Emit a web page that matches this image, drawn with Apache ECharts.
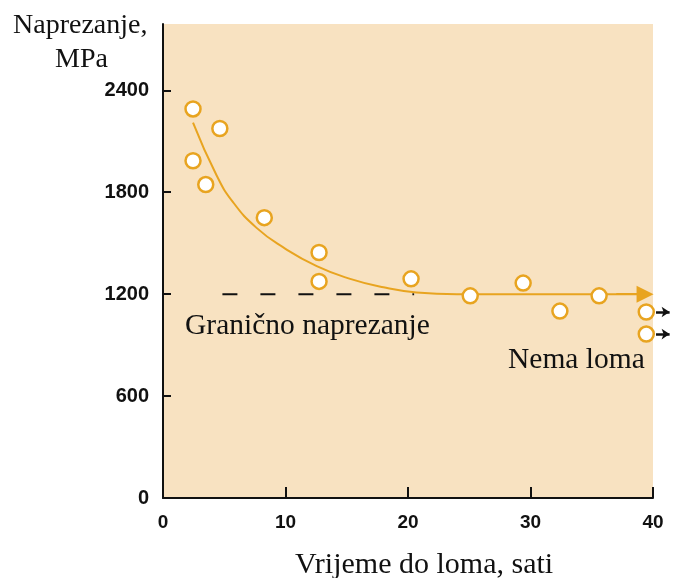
<!DOCTYPE html>
<html>
<head>
<meta charset="utf-8">
<script src="https://cdn.jsdelivr.net/npm/echarts@6/dist/echarts.min.js"></script>
<style>
  html, body { margin: 0; padding: 0; background: #fff; }
  #main { width: 673px; height: 578px; }
</style>
</head>
<body>
<div id="main"></div>
<script>
  // mjerne točke (vrijeme do loma, naprezanje)
  var timeHours = [2.45, 4.64, 2.45, 3.49, 8.27, 12.74, 12.74, 20.25, 25.08, 29.4, 32.4, 35.6, 39.45, 39.45];
  var stressMPa = [2290, 2175, 1985, 1845, 1650, 1445, 1275, 1290, 1190, 1265, 1100, 1190, 1095, 965];

  // krivulja (očitane točke)
  var curveX = [2.45, 4.37, 5.73, 7.64, 9.82, 12.55, 15.28, 18.0, 20.7, 24, 39.35];
  var curveY = [2210, 1900, 1740, 1590, 1475, 1365, 1290, 1240, 1210, 1200, 1200];

  // granično naprezanje (isprekidana linija)
  var limitX = [4.85, 20.5];
  var limitY = [1200, 1200];

  // točke bez loma (strelice desno)
  var noBreakY = [1095, 965];

  var xTicks = [0, 10, 20, 30, 40];
  var yTicks = [0, 600, 1200, 1800, 2400];

  var orange = '#E8A420';
  var serif = '"Liberation Serif", "Times New Roman", serif';
  var sans = '"Liberation Sans", Arial, sans-serif';

  function pairs(xs, ys) {
    return xs.map(function (x, i) { return [x, ys[i]]; });
  }

  var myChart = echarts.init(document.getElementById('main'));
  var option = {
    animation: false,
    grid: [
      { left: 163, right: 20, top: 24, bottom: 80, show: true, backgroundColor: '#F8E2C1', borderWidth: 0 },
      { left: 656, right: 0, top: 24, bottom: 80 }
    ],
    xAxis: [{
      type: 'value', min: 0, max: 40, interval: 10,
      axisLine: { lineStyle: { color: '#111', width: 2 } },
      axisTick: { inside: true, length: 11, lineStyle: { color: '#111', width: 2 }, customValues: xTicks.slice(1) },
      axisLabel: { margin: 15, color: '#111', fontFamily: sans, fontWeight: 'bold', fontSize: 19, customValues: xTicks },
      splitLine: { show: false }
    }, {
      type: 'value', gridIndex: 1, min: 0, max: 1, show: false
    }],
    yAxis: [{
      type: 'value', min: 0, max: 2790, interval: 600,
      axisLine: { show: true, lineStyle: { color: '#111', width: 2 } },
      axisTick: { show: true, inside: true, length: 8, lineStyle: { color: '#111', width: 2 }, customValues: yTicks.slice(1) },
      axisLabel: {
        margin: 14, color: '#111', fontFamily: sans, fontWeight: 'bold', fontSize: 20, customValues: yTicks,
        formatter: function (v) { return String(v); }
      },
      splitLine: { show: false }
    }, {
      type: 'value', gridIndex: 1, min: 0, max: 2790, show: false
    }],
    series: [{
      type: 'line',
      data: pairs(limitX, limitY),
      symbol: 'none',
      lineStyle: { color: '#111', width: 2, type: [15, 23] },
      z: 2
    }, {
      type: 'line',
      data: pairs(curveX, curveY),
      smooth: 0.5,
      symbol: 'none',
      lineStyle: { color: orange, width: 2 },
      z: 3,
      markLine: {
        silent: true,
        symbol: ['none', 'triangle'],
        symbolSize: 17,
        label: { show: false },
        lineStyle: { color: orange, width: 2, type: 'solid' },
        data: [[{ coord: [37, 1200] }, { coord: [39.35, 1200] }]]
      }
    }, {
      type: 'scatter',
      data: pairs(timeHours, stressMPa),
      symbol: 'circle',
      symbolSize: 15,
      itemStyle: { color: '#fff', borderColor: orange, borderWidth: 2.5, opacity: 1 },
      z: 5
    }, {
      type: 'lines',
      coordinateSystem: 'cartesian2d',
      xAxisIndex: 1,
      yAxisIndex: 1,
      symbol: ['none', 'arrow'],
      symbolSize: 8,
      lineStyle: { color: '#111', width: 2.5, opacity: 1 },
      data: noBreakY.map(function (v) { return { coords: [[0, v], [0.8, v]] }; }),
      z: 4
    }],
    graphic: [
      { type: 'text', left: 13, top: 12, style: { text: 'Naprezanje,', font: '28px ' + serif, fill: '#111' } },
      { type: 'text', left: 55, top: 46, style: { text: 'MPa', font: '28px ' + serif, fill: '#111' } },
      { type: 'text', left: 185, top: 311, style: { text: 'Granično naprezanje', font: '29.5px ' + serif, fill: '#111' } },
      { type: 'text', left: 508, top: 345, style: { text: 'Nema loma', font: '29.5px ' + serif, fill: '#111' } },
      { type: 'text', left: 295, top: 550, style: { text: 'Vrijeme do loma, sati', font: '30px ' + serif, fill: '#111' } }
    ]
  };
  myChart.setOption(option);
</script>
</body>
</html>
